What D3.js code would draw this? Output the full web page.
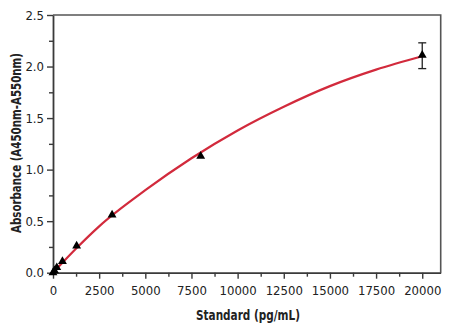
<!DOCTYPE html>
<html><head><meta charset="utf-8">
<script src="https://cdn.jsdelivr.net/npm/d3@7"></script>
<style>
html,body{margin:0;padding:0;background:#fff;}
svg{display:block;}
text{font-family:"Liberation Sans Narrow","DejaVu Sans Condensed","Arial Narrow",sans-serif;fill:#222;}
</style></head><body>
<svg id="c" width="456" height="330"></svg>
<script>
// Standards (pg/mL) and measured absorbance
const stdConc = [0, 82, 205, 512, 1280, 3200, 8000, 20000];
const stdAbs  = [0.0, 0.02, 0.05, 0.11, 0.26, 0.56, 1.13, 2.11];
// error bar for the top standard
const errConc = [20000];
const errLow  = [1.98];
const errHigh = [2.23];
// fitted curve
const fitConc = [0, 1280, 2500, 5000, 7500, 10000, 12500, 15000, 17500, 20000];
const fitAbs  = [0.0, 0.24, 0.45, 0.80, 1.11, 1.38, 1.61, 1.81, 1.97, 2.10];
// ticks
const xTicks = [0, 2500, 5000, 7500, 10000, 12500, 15000, 17500, 20000];
const xMinor = [1250, 3750, 6250, 8750, 11250, 13750, 16250, 18750];
const yTicks = [0.0, 0.5, 1.0, 1.5, 2.0, 2.5];
const yMinor = [0.25, 0.75, 1.25, 1.75, 2.25];
const xTitle = "Standard (pg/mL)";
const yTitle = "Absorbance (A450nm-A550nm)";

const W = 456, H = 330;
const m = {l: 53, t: 15, r: 15.3, b: 57.3};
const iw = W - m.l - m.r, ih = H - m.t - m.b;
const svg = d3.select("#c");
const g = svg.append("g").attr("transform", `translate(${m.l},${m.t})`);
const x = d3.scaleLinear().domain([0, 21000]).range([0, iw]);
const y = d3.scaleLinear().domain([0, 2.5]).range([ih, 0]);
const axisCol = "#3a3a3a";

// box (top and right)
g.append("path").attr("d", `M0,0H${iw}V${ih}`).attr("fill", "none")
  .attr("stroke", "#555").attr("stroke-width", 1.6);

// x axis
g.append("g").attr("transform", `translate(0,${ih})`)
  .call(d3.axisBottom(x).tickValues(xTicks).tickFormat(d3.format("d")).tickSizeInner(6).tickSizeOuter(0).tickPadding(7.5));
g.append("g").attr("transform", `translate(0,${ih})`)
  .call(d3.axisBottom(x).tickValues(xMinor).tickFormat("").tickSizeInner(4).tickSizeOuter(0))
  .select(".domain").remove();
// y axis
g.append("g")
  .call(d3.axisLeft(y).tickValues(yTicks).tickFormat(d3.format(".1f")).tickSizeInner(6).tickSizeOuter(0).tickPadding(3));
g.append("g")
  .call(d3.axisLeft(y).tickValues(yMinor).tickFormat("").tickSizeInner(4).tickSizeOuter(0))
  .select(".domain").remove();

g.selectAll(".domain").attr("stroke", axisCol).attr("stroke-width", 1.8);
g.selectAll(".tick line").attr("stroke", axisCol).attr("stroke-width", 1.4);
g.selectAll(".tick text").attr("font-size", 13).attr("fill", "#222")
  .attr("font-family", '"Liberation Sans Narrow","DejaVu Sans Condensed",sans-serif');

// fitted curve
const line = d3.line().x((d, i) => x(fitConc[i])).y((d, i) => y(fitAbs[i])).curve(d3.curveMonotoneX);
g.append("path").datum(fitAbs).attr("d", line).attr("fill", "none")
  .attr("stroke", "#d22a3c").attr("stroke-width", 2.2);

// error bar
errConc.forEach((c, i) => {
  const cx = x(c), cap = 4;
  const eb = g.append("g").attr("stroke", "#222").attr("stroke-width", 1.3);
  eb.append("line").attr("x1", cx).attr("x2", cx).attr("y1", y(errLow[i])).attr("y2", y(errHigh[i]));
  eb.append("line").attr("x1", cx - cap).attr("x2", cx + cap).attr("y1", y(errLow[i])).attr("y2", y(errLow[i]));
  eb.append("line").attr("x1", cx - cap).attr("x2", cx + cap).attr("y1", y(errHigh[i])).attr("y2", y(errHigh[i]));
});

// points
const tri = d3.symbol().type(d3.symbolTriangle).size(34);
g.selectAll(".pt").data(stdConc).join("path").attr("class", "pt")
  .attr("d", tri)
  .attr("transform", (d, i) => `translate(${x(d)},${y(stdAbs[i])})`)
  .attr("fill", "#000");

// titles
svg.append("text").attr("x", 248).attr("y", 320)
  .attr("text-anchor", "middle").attr("font-size", 13.5).attr("font-weight", "bold")
  .attr("textLength", 104).attr("lengthAdjust", "spacingAndGlyphs")
  .text(xTitle);
svg.append("text").attr("transform", "translate(21,143) rotate(-90)")
  .attr("text-anchor", "middle").attr("font-size", 13.5).attr("font-weight", "bold")
  .attr("textLength", 180).attr("lengthAdjust", "spacingAndGlyphs")
  .text(yTitle);
</script>
</body></html>
